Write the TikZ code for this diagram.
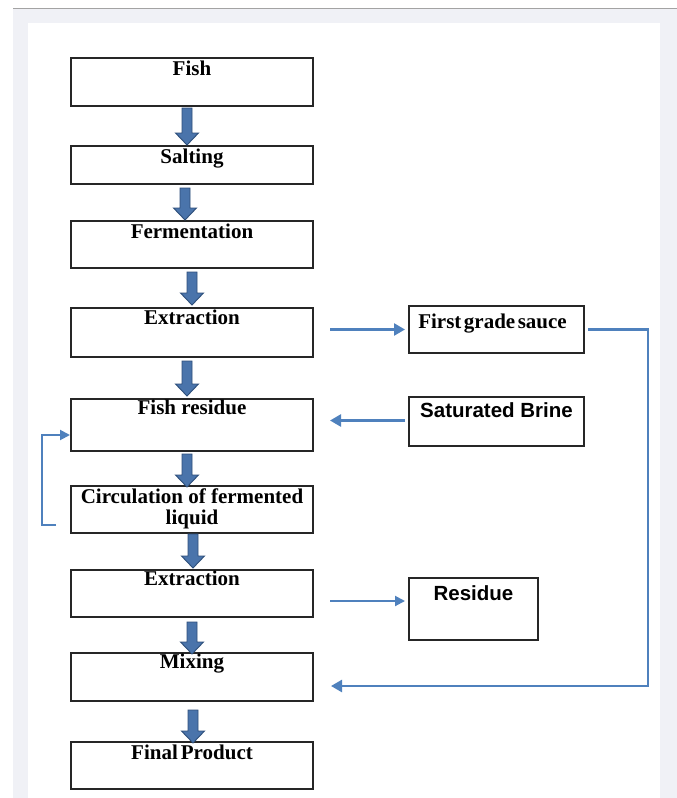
\documentclass[tikz,border=0pt]{standalone}
\usepackage{fontspec}
\setmainfont{Liberation Serif}
\newfontfamily\arialfont{Liberation Sans}
\usetikzlibrary{arrows.meta,calc}
\definecolor{connblue}{HTML}{4F81BD}
\definecolor{blockfill}{HTML}{4A74AB}
\definecolor{blockline}{HTML}{2E4F7A}
\definecolor{pagegray}{HTML}{F0F1F6}
\definecolor{frameline}{HTML}{A3A3A3}
\definecolor{boxline}{HTML}{262626}
\newcommand\blockarrow[5]{%
  \path[blockarrowstyle] let \p1=($(#1.south)+(#3,#4)$), \p2=($(#2.north)+(#3,#5)$) in
  ({\x1-5pt},\y1) -- ({\x1+5pt},\y1) -- ({\x1+5pt},{\y2+12pt}) -- ({\x1+11.5pt},{\y2+12pt})
  -- (\x1,\y2) -- ({\x1-11.5pt},{\y2+12pt}) -- ({\x1-5pt},{\y2+12pt}) -- cycle;}
\begin{document}
\begin{tikzpicture}[x=1pt,y=-1pt,
  stepbox/.style={draw=boxline, line width=1.3pt, fill=white, anchor=north west,
    minimum width=#1, inner sep=0pt, outer sep=0pt},
  serifbold/.style={font=\fontsize{21}{21}\selectfont\bfseries, inner sep=0pt, anchor=base, align=center},
  sansbold/.style={font=\arialfont\fontsize{20.5}{21}\selectfont\bfseries, inner sep=0pt, anchor=base},
  blockarrowstyle/.style={fill=blockfill, draw=blockline, line width=0.9pt, line join=miter},
  conn/.style={draw=connblue, line width=2.5pt, -{Triangle[length=11pt,width=12pt]}},
  connthin/.style={draw=connblue, line width=2pt, -{Triangle[length=10pt,width=10pt]}},
]
% page background
\useasboundingbox (0,0) rectangle (677,798);
\fill[pagegray] (13,8) rectangle (677,798);
\draw[frameline, line width=1pt] (13,8) -- (677,8);
\fill[white] (28,23) rectangle (660,798);

% main column boxes
\node[stepbox=242pt, minimum height=48pt] (fish)  at (71,58)  {};
\node[stepbox=242pt, minimum height=38pt] (salt)  at (71,146) {};
\node[stepbox=242pt, minimum height=47pt] (ferm)  at (71,221) {};
\node[stepbox=242pt, minimum height=49pt] (extr)  at (71,308) {};
\node[stepbox=242pt, minimum height=52pt] (fres)  at (71,399) {};
\node[stepbox=242pt, minimum height=47pt] (circ)  at (71,486) {};
\node[stepbox=242pt, minimum height=47pt] (extr2) at (71,570) {};
\node[stepbox=242pt, minimum height=48pt] (mix)   at (71,653) {};
\node[stepbox=242pt, minimum height=47pt] (final) at (71,742) {};
% side boxes
\node[stepbox=175pt, minimum height=47pt] (sauce) at (409,306) {};
\node[stepbox=175pt, minimum height=49pt] (brine) at (409,397) {};
\node[stepbox=129pt, minimum height=62pt] (resid) at (409,578) {};

% texts
\node[serifbold] (fishT)  at ($(fish.north)+(0,17)$)  {Fish};
\node[serifbold] (saltT)  at ($(salt.north)+(0,17)$)  {Salting};
\node[serifbold] (fermT)  at ($(ferm.north)+(0,17)$)  {Fermentation};
\node[serifbold] (extrT)  at ($(extr.north)+(0,16)$)  {Extraction};
\node[serifbold] (fresT)  at ($(fres.north)+(0,15)$)  {Fish residue};
\node[serifbold] (circT)  at ($(circ.north)+(0,38)$)  {Circulation of fermented\\liquid};
\node[serifbold] (extr2T) at ($(extr2.north)+(0,15)$) {Extraction};
\node[serifbold] (mixT)   at ($(mix.north)+(0,15)$)   {Mixing};
\node[serifbold] (finalT) at ($(final.north)+(0,17)$) {Final\hspace{3pt}Product};
\node[serifbold] (sauceT) at ($(sauce.north)+(-4,22)$) {First\hspace{2.5pt}grade\hspace{2.5pt}sauce};
\node[sansbold]  (brineT) at ($(brine.north)+(0,20)$) {Saturated Brine};
\node[sansbold]  (residT) at ($(resid.north)+(0,22)$) {Residue};

% block arrows down
\blockarrow{fish}{salt}{-5}{2}{-1}
\blockarrow{salt}{ferm}{-7}{4}{-1}
\blockarrow{ferm}{extr}{0}{4}{-3}
\blockarrow{extr}{fres}{-5}{4}{-3}
\blockarrow{fres}{circ}{-5}{3}{1}
\blockarrow{circ}{extr2}{1}{1}{-2}
\blockarrow{extr2}{mix}{0}{5}{1}
\blockarrow{mix}{final}{1}{9}{1}

% side connectors
\draw[conn] ($(extr.east |- sauce.west)+(17,0)$) -- ($(sauce.west)+(-4,0)$);
\draw[conn] ($(brine.west)+(-4,-1)$) -- ($(fres.east |- brine.west)+(17,-1)$);
\draw[connthin] ($(extr2.north east)+(17,31)$) -- ($(resid.north west)+(-4,23)$);
\draw[conn] ($(sauce.east)+(4,0)$) -- ++(60,0) |- ($(mix.north east)+(18,33)$);
\draw[connthin] ($(circ.west)+(-15,15.5)$) -- ++(-14,0) |- ($(fres.west)+(-1,10)$);
\end{tikzpicture}
\end{document}
